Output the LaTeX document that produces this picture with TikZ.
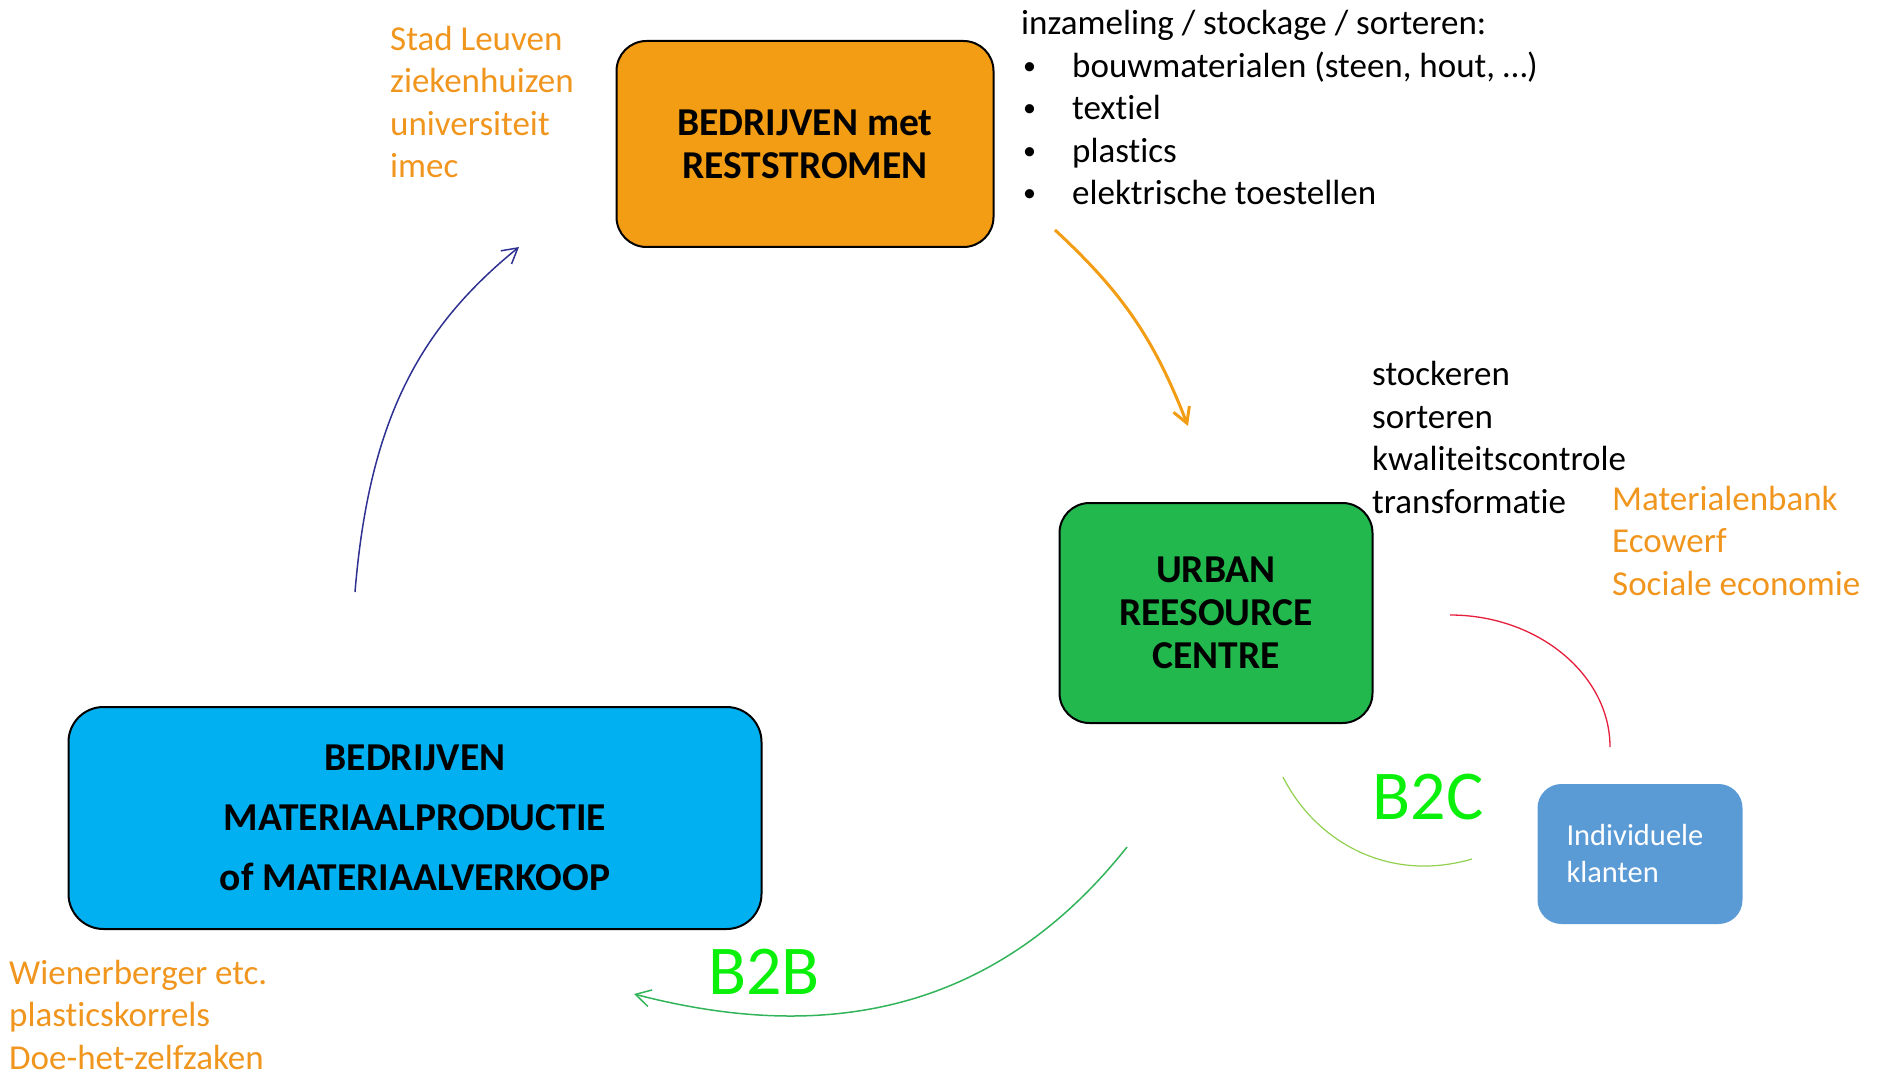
\documentclass[tikz,border=0pt]{standalone}
\usepackage{fontspec}
\setmainfont{Carlito}[Ligatures=NoCommon]
\usetikzlibrary{arrows.meta}
\definecolor{restorange}{RGB}{243,157,20}
\definecolor{partnerorange}{RGB}{240,150,30}
\definecolor{urcgreen}{RGB}{34,184,78}
\definecolor{prodblue}{RGB}{0,176,240}
\definecolor{klantblue}{RGB}{91,155,213}
\definecolor{navyline}{RGB}{46,49,146}
\definecolor{b2bline}{RGB}{50,180,90}
\definecolor{b2cline}{RGB}{146,208,80}
\definecolor{redline}{RGB}{230,30,60}
\definecolor{labelgreen}{RGB}{10,240,10}
\newcommand{\listbullet}{\makebox[51pt][l]{\hspace*{2pt}\raisebox{3pt}{\fontsize{26}{26}\selectfont•}}}

\begin{document}
\begin{tikzpicture}[x=1pt, y=-1pt,
    box/.style={draw=black, line width=2pt, rounded corners=30pt, align=center,
        inner sep=0pt, font=\fontsize{39.5}{43}\selectfont\bfseries},
    textlist/.style={anchor=base west, align=left, inner sep=0pt,
        font=\fontsize{35}{42.5}\selectfont},
    flowlabel/.style={text=labelgreen, inner sep=0pt, font=\fontsize{70}{70}\selectfont},
    flowtip/.style={-{Straight Barb[length=15pt, width=17pt]}}
  ]
    \useasboundingbox (0,0) rectangle (1879,1075);

    % boxes
    \node[box, fill=restorange, minimum width=377pt, minimum height=206pt]
        (rest) at (805,144) {BEDRIJVEN met\\RESTSTROMEN};
    \node[box, fill=urcgreen, minimum width=313pt, minimum height=220pt]
        (urc) at (1216,613) {URBAN\\REESOURCE\\CENTRE};
    \node[box, fill=prodblue, rounded corners=35pt, minimum width=693pt, minimum height=222pt,
        font=\fontsize{39.5}{60}\selectfont\bfseries]
        (prod) at (415,818) {BEDRIJVEN\\MATERIAALPRODUCTIE\\of MATERIAALVERKOOP};
    \node[fill=klantblue, rounded corners=24pt, minimum width=205pt, minimum height=140pt,
        inner sep=0pt, text width=147pt, align=left, text=white, font=\fontsize{30.5}{37}\selectfont]
        (klant) at (1640,854) {Individuele\\klanten};

    % texts
    \node[textlist, text=partnerorange] (restpartners) at (390,178)
        {Stad Leuven\\ziekenhuizen\\universiteit\\imec};
    \node[textlist] (inzameling) at (1021,205)
        {inzameling / stockage / sorteren:\\
         \listbullet bouwmaterialen (steen, hout, …)\\
         \listbullet textiel\\
         \listbullet plastics\\
         \listbullet elektrische toestellen};
    \node[textlist] (urctaken) at (1372,513)
        {stockeren\\sorteren\\kwaliteitscontrole\\transformatie};
    \node[textlist, text=partnerorange] (urcpartners) at (1612,595)
        {Materialenbank\\Ecowerf\\Sociale economie};
    \node[textlist, text=partnerorange] (prodpartners) at (9,1069)
        {Wienerberger etc.\\plasticskorrels\\Doe-het-zelfzaken};
    \node[flowlabel] (b2b) at (764,972) {B2B};
    \node[flowlabel] (b2c) at (1428,797) {B2C};

    % connectors
    \coordinate (restout) at (1055,230);
    \coordinate (urcin) at (1188,426);
    \coordinate (prodout) at (355,592);
    \coordinate (restin) at (519,247);
    \coordinate (urcout) at (1127,847);
    \coordinate (prodin) at (634,994);
    \coordinate (klantup) at (1450,615);
    \coordinate (klanttop) at (1610,747);
    \coordinate (urcdown) at (1283,777);
    \coordinate (klantleft) at (1472,859);

    \draw[flowtip, restorange, line width=3pt]
        (restout) .. controls (1123,293) and (1154,339) .. (urcin);
    \draw[flowtip, navyline, line width=1.5pt]
        (prodout) .. controls (369,422) and (418,329) .. (restin);
    \draw[flowtip, b2bline, line width=1.5pt]
        (urcout) .. controls (982,1030) and (799,1037) .. (prodin);
    \draw[redline, line width=1.3pt]
        (klantup) .. controls (1538,615) and (1610,675) .. (klanttop);
    \draw[b2cline, line width=1.2pt]
        (urcdown) .. controls (1314,839) and (1386,884) .. (klantleft);
\end{tikzpicture}
\end{document}
